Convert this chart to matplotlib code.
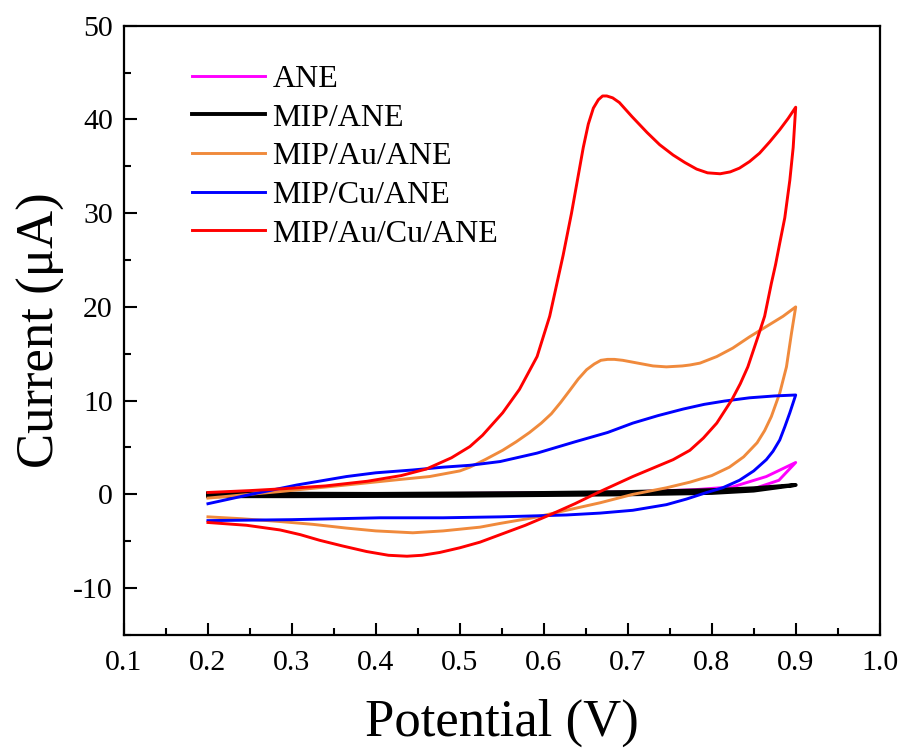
import numpy as np
import matplotlib
matplotlib.use("Agg")
import matplotlib.pyplot as plt
from matplotlib.ticker import MultipleLocator

plt.rcParams["font.family"] = ["Liberation Serif", "DejaVu Serif"]
plt.rcParams["axes.unicode_minus"] = False

labels = ["ANE", "MIP/ANE", "MIP/Au/ANE", "MIP/Cu/ANE", "MIP/Au/Cu/ANE"]
colors = ["#FF00FF", "#000000", "#F08A3C", "#0000FF", "#FF0000"]

# forward (anodic) scan 0.2 -> 0.9 V, then reverse scan 0.9 -> 0.2 V
ane_fx = [0.20, 0.40, 0.60, 0.70, 0.78, 0.825, 0.865, 0.90]
ane_fy = [0.0, 0.05, 0.15, 0.25, 0.5, 0.8, 1.9, 3.4]
ane_rx = [0.90, 0.88, 0.85, 0.80, 0.60, 0.20]
ane_ry = [3.4, 1.5, 0.6, 0.2, 0.0, -0.1]

mip_fx = [0.20, 0.40, 0.60, 0.70, 0.80, 0.85, 0.90]
mip_fy = [0.1, 0.05, 0.15, 0.25, 0.45, 0.65, 1.0]
mip_rx = [0.90, 0.85, 0.80, 0.70, 0.50, 0.30, 0.20]
mip_ry = [1.0, 0.4, 0.15, 0.0, -0.15, -0.2, -0.2]

au_fx = [0.20, 0.286, 0.365, 0.43, 0.464, 0.50, 0.512, 0.53, 0.551, 0.567,
         0.583, 0.597, 0.609, 0.620, 0.631, 0.641, 0.651, 0.660, 0.668, 0.676,
         0.684, 0.694, 0.706, 0.73, 0.746, 0.765, 0.774, 0.786, 0.806, 0.825,
         0.845, 0.865, 0.885, 0.90]
au_fy = [-0.4, 0.3, 1.0, 1.6, 1.9, 2.5, 2.9, 3.7, 4.7, 5.6,
         6.6, 7.6, 8.6, 9.8, 11.1, 12.3, 13.3, 13.9, 14.3, 14.4,
         14.4, 14.3, 14.1, 13.7, 13.6, 13.7, 13.8, 14.0, 14.7, 15.6,
         16.8, 17.9, 19.0, 20.0]
au_rx = [0.90, 0.895, 0.889, 0.881, 0.871, 0.863, 0.854, 0.838, 0.821, 0.80,
         0.774, 0.746, 0.706, 0.667, 0.627, 0.587, 0.548, 0.524, 0.48, 0.444,
         0.40, 0.365, 0.325, 0.286, 0.24, 0.20]
au_ry = [20.0, 17.2, 13.6, 10.8, 8.3, 6.8, 5.5, 4.0, 2.9, 2.0,
         1.3, 0.7, 0.0, -0.9, -1.7, -2.5, -3.1, -3.5, -3.9, -4.1,
         -3.9, -3.6, -3.2, -2.9, -2.6, -2.4]

cu_fx = [0.20, 0.246, 0.306, 0.365, 0.40, 0.444, 0.48, 0.512, 0.548, 0.592,
         0.637, 0.676, 0.706, 0.736, 0.766, 0.791, 0.815, 0.845, 0.875, 0.90]
cu_fy = [-1.0, -0.1, 1.0, 1.9, 2.3, 2.6, 2.9, 3.1, 3.5, 4.4,
         5.6, 6.6, 7.6, 8.4, 9.1, 9.6, 9.95, 10.3, 10.5, 10.6]
cu_rx = [0.90, 0.893, 0.887, 0.881, 0.873, 0.865, 0.85, 0.833, 0.813, 0.794,
         0.77, 0.746, 0.706, 0.667, 0.627, 0.548, 0.48, 0.405, 0.30, 0.20]
cu_ry = [10.6, 8.7, 7.2, 5.8, 4.6, 3.7, 2.5, 1.5, 0.7, 0.2,
         -0.5, -1.1, -1.7, -2.0, -2.2, -2.4, -2.5, -2.5, -2.7, -2.8]

aucu_fx = [0.20, 0.25, 0.29, 0.34, 0.39, 0.43, 0.46, 0.49, 0.512, 0.527,
           0.551, 0.571, 0.592, 0.607, 0.623, 0.633, 0.641, 0.647, 0.653, 0.659,
           0.665, 0.670, 0.675, 0.682, 0.690, 0.705, 0.723, 0.738, 0.754, 0.768,
           0.782, 0.795, 0.810, 0.822, 0.833, 0.845, 0.857, 0.869, 0.881, 0.891,
           0.90]
aucu_fy = [0.2, 0.4, 0.6, 0.9, 1.4, 2.0, 2.7, 3.9, 5.1, 6.3,
           8.7, 11.2, 14.7, 19.0, 25.5, 30.0, 34.0, 37.0, 39.5, 41.2,
           42.1, 42.5, 42.5, 42.3, 41.8, 40.3, 38.6, 37.3, 36.2, 35.4,
           34.7, 34.3, 34.2, 34.4, 34.8, 35.5, 36.4, 37.6, 38.9, 40.1,
           41.3]
aucu_rx = [0.90, 0.897, 0.893, 0.887, 0.881, 0.876, 0.871, 0.863, 0.855, 0.843,
           0.834, 0.824, 0.806, 0.790, 0.774, 0.754, 0.73, 0.706, 0.667, 0.637,
           0.607, 0.578, 0.548, 0.524, 0.50, 0.476, 0.455, 0.437, 0.415, 0.389,
           0.36, 0.333, 0.31, 0.286, 0.246, 0.20]
aucu_ry = [41.3, 37.0, 33.5, 29.5, 26.8, 24.5, 22.5, 19.0, 16.8, 13.6,
           11.8, 10.1, 7.6, 6.0, 4.7, 3.7, 2.8, 1.9, 0.3, -1.0,
           -2.2, -3.3, -4.3, -5.1, -5.7, -6.2, -6.5, -6.6, -6.5, -6.1,
           -5.5, -4.9, -4.3, -3.8, -3.3, -3.0]

series = [
    (ane_fx + ane_rx, ane_fy + ane_ry),
    (mip_fx + mip_rx, mip_fy + mip_ry),
    (au_fx + au_rx, au_fy + au_ry),
    (cu_fx + cu_rx, cu_fy + cu_ry),
    (aucu_fx + aucu_rx, aucu_fy + aucu_ry),
]

fig = plt.figure(figsize=(9.05, 7.55), dpi=100)
ax = fig.add_axes([0.137, 0.159, 0.835, 0.807])

for (x, y), lab, c in zip(series, labels, colors):
    lw = 2.8 if c == "#000000" else 2.1
    ax.plot(x, y, color=c, lw=lw, label=lab, solid_joinstyle="round")

ax.set_xlim(0.1, 1.0)
ax.set_ylim(-15, 50)
ax.xaxis.set_minor_locator(MultipleLocator(0.05))
ax.yaxis.set_major_locator(MultipleLocator(10))
ax.yaxis.set_minor_locator(MultipleLocator(5))
xt = np.arange(0.1, 1.01, 0.1)
ax.set_xticks(xt)
ax.set_xticklabels([f"{v:.1f}" for v in xt])

ax.tick_params(which="major", direction="in", length=9, width=1.5,
               labelsize=21.5, pad=8)
ax.tick_params(axis="x", which="major", pad=11)
ax.tick_params(which="minor", direction="in", length=5, width=1.5)
for s in ax.spines.values():
    s.set_linewidth(1.6)

ax.set_xlabel("Potential (V)", fontsize=38, labelpad=16)
ax.set_ylabel("Current (μA)", fontsize=38, labelpad=6)

ax.legend(loc="upper left", bbox_to_anchor=(0.09, 0.936), frameon=False,
          fontsize=23, handlelength=2.3, handletextpad=0.22,
          labelspacing=0.29, borderpad=0, borderaxespad=0)

fig.savefig("out.png", dpi=100)
